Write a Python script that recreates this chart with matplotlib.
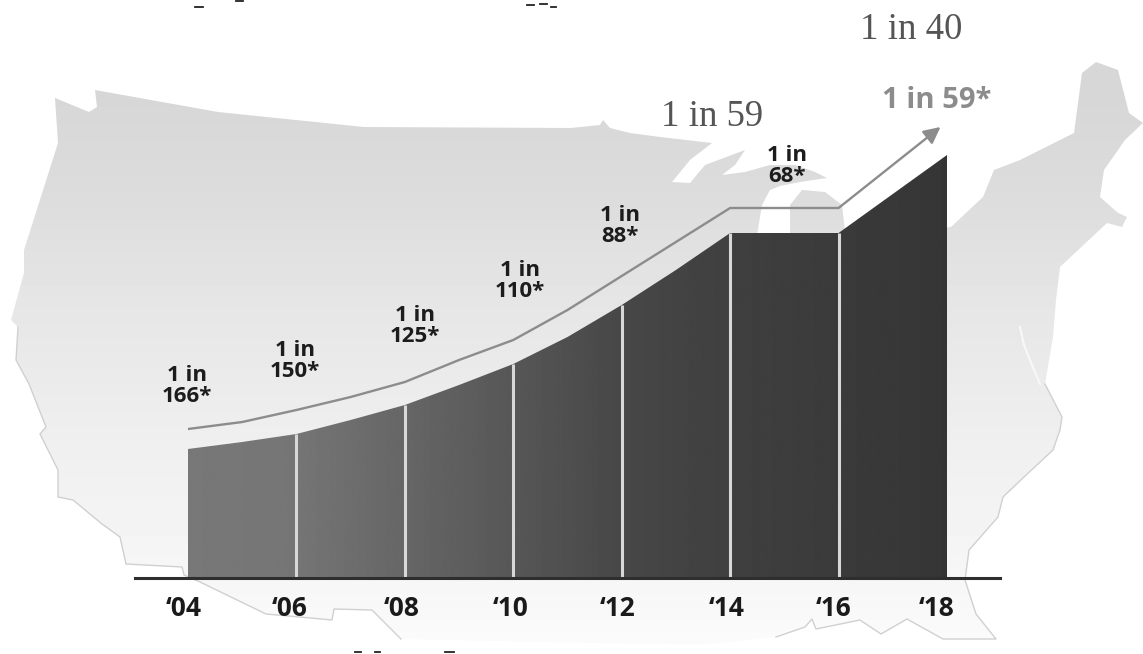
import numpy as np
import matplotlib
matplotlib.use('Agg')
import matplotlib.pyplot as plt
from matplotlib.patches import Polygon

# chart values, heights measured above the baseline
years = [2004, 2006, 2008, 2010, 2012, 2014, 2016, 2018]
top_years = [2004, 2005, 2006, 2007, 2008, 2009, 2010, 2011, 2012, 2013, 2014, 2016, 2018]
top_heights = [129, 136, 144, 158, 173, 193, 214, 241, 273, 308, 345, 345, 423]
bar_heights = [129, 144, 173, 214, 273, 345, 345, 423]
trend_years = [2004, 2005, 2006, 2007, 2008, 2009, 2010, 2011, 2012, 2013, 2014, 2016]
trend_heights = [149, 156, 168, 181, 196, 218, 238, 268, 302, 336, 370, 370]
arrow_tip = (2017.88, 451)
bar_grays = [0.47, 0.46, 0.40, 0.34, 0.28, 0.25, 0.23, 0.21]
tick_labels = ['\u201804', '\u201806', '\u201808', '\u201810', '\u201812', '\u201814', '\u201816', '\u201818']
tick_shift = [-4, -7, -3, -3, -4, -4, -5, -10]
rate_labels = ['1 in\n166*', '1 in\n150*', '1 in\n125*', '1 in\n110*', '1 in\n88*', '1 in\n68*']
rate_pos = [(187, 386), (295, 361), (415, 326), (520, 281), (620, 226), (787, 166)]

# map outline in picture pixels
map_outline = [
    (55, 98), (89, 112), (97, 107), (95, 90), (218, 112), (364, 127), (571, 128), (600, 125),
    (603, 120), (610, 128), (630, 133), (660, 137), (712, 143), (690, 160), (672, 182), (690, 183),
    (705, 165), (745, 150), (735, 165), (722, 175), (745, 172), (770, 165), (795, 165), (815, 172),
    (827, 178), (800, 182), (780, 186), (770, 190), (762, 205), (757, 235), (790, 235),
    (790, 205), (802, 190), (825, 192), (842, 205), (846, 240), (951, 227), (983, 197), (994, 170),
    (1020, 160), (1074, 133), (1082, 73), (1096, 62), (1118, 70), (1129, 113), (1143, 123),
    (1125, 140), (1104, 170), (1100, 197), (1118, 213), (1127, 217), (1122, 227), (1107, 223),
    (1060, 267), (1056, 300), (1053, 337), (1045, 384), (1062, 417), (1060, 430), (1053, 450),
    (1024, 477), (1003, 497), (998, 517), (969, 550), (965, 580), (976, 614), (996, 639),
    (943, 639), (907, 619), (881, 634), (860, 620), (816, 629), (812, 619), (805, 627), (776, 637),
    (700, 645), (401, 639), (372, 610), (334, 609), (332, 620), (266, 614), (200, 582), (184, 575),
    (182, 567), (126, 564), (120, 537), (102, 524), (73, 500), (58, 497), (58, 470), (40, 434),
    (46, 427), (29, 384), (16, 360), (18, 327), (11, 320), (24, 273), (24, 250), (58, 143),
]
map_y = [90, 200, 300, 450, 600, 645]
map_gray = [0.84, 0.865, 0.90, 0.94, 0.97, 0.985]
chesapeake = [(1020, 327), (1024, 345), (1032, 365), (1040, 384)]
specks = [(195, 203, 7), (236, 243, 1), (527, 534, 5), (540, 547, 4), (551, 556, 7),
          (355, 361, 652), (375, 380, 652), (445, 454, 652)]

fig = plt.figure(figsize=(11.43, 6.54), dpi=100)

# background layer in pixel coordinates
bg = fig.add_axes([0, 0, 1, 1])
bg.set_xlim(0, 1143)
bg.set_ylim(654, 0)
bg.axis('off')

ramp = np.interp(np.arange(654), map_y, map_gray).reshape(-1, 1)
im = bg.imshow(ramp, cmap='gray', vmin=0, vmax=1, aspect='auto', extent=[0, 1143, 654, 0])
outline = Polygon(map_outline, closed=True, transform=bg.transData, fc='none', ec='none')
bg.add_patch(outline)
im.set_clip_path(outline)
# only the lower coasts have a visible edge
east_coast = map_outline[map_outline.index((1045, 384)):map_outline.index((776, 637)) + 1]
west_coast = map_outline[map_outline.index((401, 639)):map_outline.index((18, 327)) + 1]
bg.plot(*zip(*east_coast), color='#d0d0d0', lw=1)
bg.plot(*zip(*west_coast), color='#d0d0d0', lw=1)
bg.plot(*zip(*chesapeake), color='#f8f8f8', lw=1.5)
for sx0, sx1, sy in specks:
    bg.plot([sx0, sx1], [sy, sy], color='#222222', lw=1.3)

# chart layer, sits on the baseline
ax = fig.add_axes([135 / 1143, 76 / 654, 865 / 1143, 578 / 654])
ax.patch.set_alpha(0)
px_per_year = (947 - 188) / 14
x0 = 2004 - (188 - 135) / px_per_year
x1 = 2018 + (1000 - 947) / px_per_year

# gradient bars clipped to the area under the heights
xs = np.linspace(2004, 2018, 800)
grad = np.interp(xs, years, bar_grays).reshape(1, -1)
bars = ax.imshow(grad, cmap='gray', vmin=0, vmax=1, aspect='auto', extent=[2004, 2018, 0, 578], zorder=2)
ax.set_xlim(x0, x1)
ax.set_ylim(0, 578)
area = Polygon([(2004, 0)] + list(zip(top_years, top_heights)) + [(2018, 0)], closed=True,
               transform=ax.transData, fc='none', ec='none')
ax.add_patch(area)
bars.set_clip_path(area)
ax.vlines(years[1:-1], 0, bar_heights[1:-1], color='#d8d8d8', lw=2.2, zorder=3)

# trend line and arrow
ax.plot(trend_years, trend_heights, color='#8c8c8c', lw=1.7, zorder=3, solid_capstyle='butt')
ax.annotate('', xy=arrow_tip, xytext=(trend_years[-1], trend_heights[-1]), zorder=3,
            arrowprops=dict(arrowstyle='-|>,head_length=1.0,head_width=0.5', color='#8c8c8c',
                            lw=1.7, shrinkA=0, shrinkB=0))

for spine in ['top', 'left', 'right']:
    ax.spines[spine].set_visible(False)
ax.spines['bottom'].set_linewidth(2.2)
ax.spines['bottom'].set_color('#2e2e2e')
ax.spines['bottom'].set_zorder(4)
ax.set_yticks([])
ax.set_xticks(years)
ax.set_xticklabels(tick_labels, family='Open Sans', fontweight='bold', fontsize=19, color='#1a1a1a')
ax.tick_params(axis='x', length=0, pad=12)
for lab, shift in zip(ax.get_xticklabels(), tick_shift):
    offset = matplotlib.transforms.ScaledTranslation(shift / 100, 0, fig.dpi_scale_trans)
    lab.set_transform(lab.get_transform() + offset)

# text labels go on a top layer in pixel coordinates
top = fig.add_axes([0, 0, 1, 1])
top.patch.set_alpha(0)
top.set_xlim(0, 1143)
top.set_ylim(654, 0)
top.axis('off')
for label, (x, y) in zip(rate_labels, rate_pos):
    top.text(x, y, label, family='Open Sans', fontweight='bold', fontsize=16, color='#1c1c1c',
             ha='center', va='center', linespacing=0.95)
top.text(712, 117, '1 in 59', family='Liberation Serif', fontsize=26.5, color='#555555', ha='center', va='center')
top.text(911, 30, '1 in 40', family='Liberation Serif', fontsize=26.5, color='#555555', ha='center', va='center')
top.text(937, 101, '1 in 59*', family='Open Sans', fontweight='bold', fontsize=21, color='#8c8c8c',
         ha='center', va='center')

fig.savefig('out.png', dpi=100)
